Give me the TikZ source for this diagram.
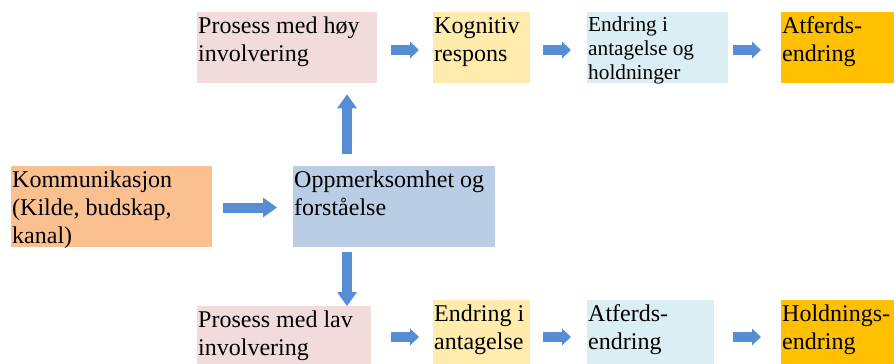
\documentclass[tikz,border=0pt]{standalone}
\usepackage{fontspec}
\setmainfont{Liberation Serif}
\usetikzlibrary{arrows.meta,calc}

\definecolor{pinkc}{HTML}{F2DCDB}
\definecolor{yellowc}{HTML}{FFEBAB}
\definecolor{lbluec}{HTML}{DAEEF3}
\definecolor{goldc}{HTML}{FFC000}
\definecolor{peachc}{HTML}{FAC090}
\definecolor{bluec}{HTML}{B9CDE5}
\definecolor{arrowc}{HTML}{558ED5}

\begin{document}
\begin{tikzpicture}[x=1pt,y=-1pt,
  box/.style={draw=none, inner sep=0pt, anchor=north west, rectangle},
  txt/.style={anchor=north west, inner xsep=1pt, inner ysep=0pt, align=left,
    font=\fontsize{24}{28}\selectfont},
  smalltxt/.style={anchor=north west, inner xsep=1pt, inner ysep=0pt, align=left,
    font=\fontsize{21.3}{24}\selectfont},
  smallarr/.style={draw=arrowc, line width=10pt,
    -{Triangle[length=9pt,width=17pt,line width=0pt]}},
  bigarr/.style={draw=arrowc, line width=10pt,
    -{Triangle[length=14pt,width=20pt,line width=0pt]}}]
\useasboundingbox (0,0) rectangle (894,364);
\clip (0,0) rectangle (894,364);

% rows for the horizontal arrows, column for the vertical ones
\coordinate (rowt) at (0,50);
\coordinate (rowm) at (0,207.5);
\coordinate (rowb) at (0,337);
\coordinate (col) at (347,0);

% upper row: high involvement
\node[box, fill=pinkc, minimum width=180pt, minimum height=71pt] (hoy) at (197,12) {};
\node[box, fill=yellowc, minimum width=97pt, minimum height=71pt] (kog) at (433,12) {};
\node[box, fill=lbluec, minimum width=141pt, minimum height=71pt] (endr) at (587,12) {};
\node[box, fill=goldc, minimum width=115pt, minimum height=71pt] (atf) at (781,12) {};

\node[txt] at (hoy.north west) {\rule{0pt}{21pt}Prosess med høy\\involvering};
\node[txt] at (kog.north west) {\rule{0pt}{21pt}Kognitiv\\respons};
\begin{scope}
  \clip (endr.south west) rectangle (endr.north east);
  \node[smalltxt] at (endr.north west) {\rule{0pt}{19pt}Endring i\\antagelse og\\holdninger};
\end{scope}
\node[txt] at (atf.north west) {\rule{0pt}{21pt}Atferds-\\endring};

% middle row
\node[box, fill=peachc, minimum width=201pt, minimum height=81pt] (kom) at (11,166) {};
\node[box, fill=bluec, minimum width=202pt, minimum height=81pt] (opp) at (293,166) {};
\node[txt] at (kom.north west) {\rule{0pt}{21pt}Kommunikasjon\\(Kilde, budskap,\\kanal)};
\node[txt] at (opp.north west) {\rule{0pt}{21pt}Oppmerksomhet og\\forståelse};

% lower row: low involvement
\node[box, fill=pinkc, minimum width=174pt, minimum height=70pt] (lav) at (197,306) {};
\node[box, fill=yellowc, minimum width=97pt, minimum height=76pt] (ant) at (433,300) {};
\node[box, fill=lbluec, minimum width=127pt, minimum height=76pt] (atf2) at (587,300) {};
\node[box, fill=goldc, minimum width=115pt, minimum height=76pt] (hold) at (781,300) {};

\node[txt] at (lav.north west) {\rule{0pt}{21pt}Prosess med lav\\involvering};
\node[txt] at (ant.north west) {\rule{0pt}{21pt}Endring i\\antagelse};
\node[txt] at (atf2.north west) {\rule{0pt}{21pt}Atferds-\\endring};
\node[txt] at (hold.north west) {\rule{0pt}{21pt}Holdnings-\\endring};

% connectors
\draw[bigarr, shorten <=11pt, shorten >=16pt] (kom.east |- rowm) -- (opp.west |- rowm);
\draw[bigarr, line width=10pt, shorten <=12pt, shorten >=11pt] (opp.north -| col) -- (hoy.south -| col);
\draw[bigarr, shorten <=5pt, shorten >=0pt] (opp.south -| col) -- (lav.north -| col);

\draw[smallarr, shorten <=14pt, shorten >=14pt] (hoy.east |- rowt) -- (kog.west |- rowt);
\draw[smallarr, shorten <=13pt, shorten >=16pt] (kog.east |- rowt) -- (endr.west |- rowt);
\draw[smallarr, shorten <=5pt, shorten >=20pt] (endr.east |- rowt) -- (atf.west |- rowt);

\draw[smallarr, shorten <=20pt, shorten >=14pt] (lav.east |- rowb) -- (ant.west |- rowb);
\draw[smallarr, shorten <=13pt, shorten >=16pt] (ant.east |- rowb) -- (atf2.west |- rowb);
\draw[smallarr, shorten <=19pt, shorten >=20pt] (atf2.east |- rowb) -- (hold.west |- rowb);
\end{tikzpicture}
\end{document}
